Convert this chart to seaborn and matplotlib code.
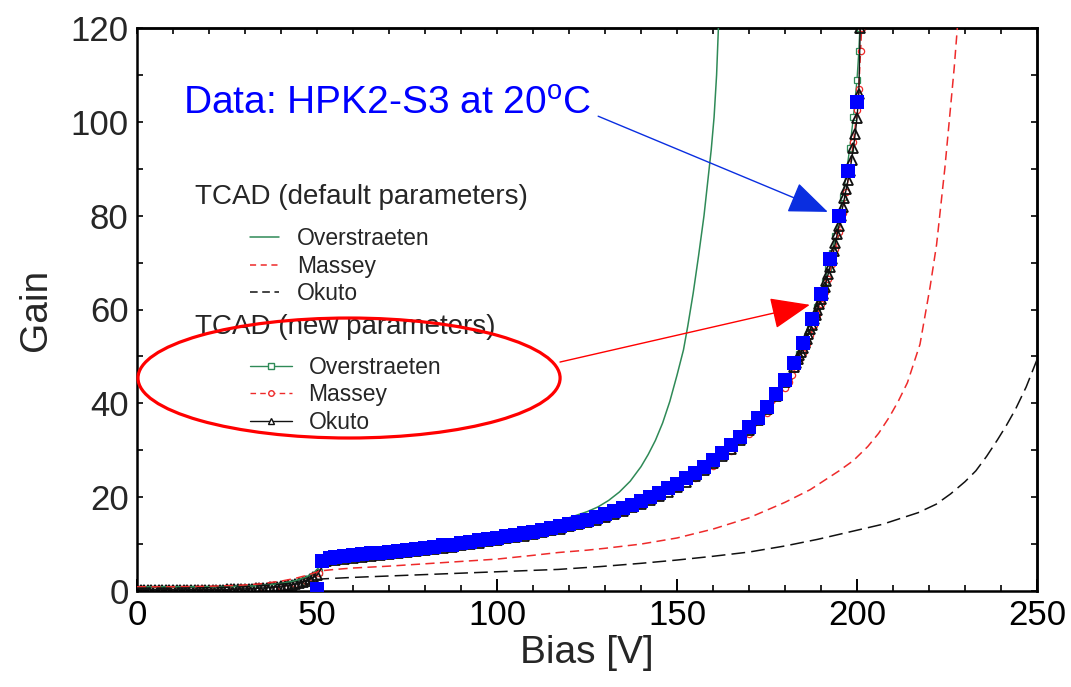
import numpy as np
import matplotlib
matplotlib.use("Agg")
import matplotlib.pyplot as plt
import seaborn as sns
from matplotlib.lines import Line2D
from matplotlib.patches import Ellipse

# ---------------- data ----------------
# Measured data: HPK2-S3 at 20 C
data_v = [50, 51.5, 53.5] + list(np.arange(55, 200.1, 2.5))
data_g = [0.5, 6.3, 7.0,
          7.2, 7.4, 7.6, 7.8, 8.0, 8.2, 8.4, 8.6, 8.8, 9.0,
          9.2, 9.4, 9.7, 9.9, 10.2, 10.5, 10.8, 11.1, 11.4, 11.7,
          12.0, 12.3, 12.6, 13.0, 13.4, 13.8, 14.3, 14.7, 15.2, 15.8,
          16.4, 17.0, 17.7, 18.4, 19.2, 20.0, 20.9, 21.9, 22.9, 24.0,
          25.2, 26.5, 27.9, 29.4, 31.1, 32.9, 34.9, 36.9, 39.3, 42.0,
          45.0, 48.6, 52.8, 57.9, 63.3, 70.7, 79.9, 89.5, 104.3]

# TCAD default parameters
ovs_def_v = [0, 10, 20, 30, 35, 40, 44, 47, 49, 50.5, 51.5, 53, 55, 60, 70, 80, 90, 100,
             110, 115, 120, 125, 128, 131, 134, 137, 140, 142, 144, 146, 148, 150, 151.8,
             153, 154.5, 156, 157.5, 158.5, 159.5, 160.3, 161, 161.5]
ovs_def_g = [0.9, 0.9, 0.9, 1.0, 1.2, 1.6, 2.2, 3.0, 3.8, 5.0, 6.6, 7.0, 7.3, 7.7, 8.6, 9.5,
             10.6, 11.8, 13.3, 14.5, 15.6, 16.9, 17.9, 19.3, 21.1, 23.4, 26.5, 29.1, 32.1,
             35.8, 40.4, 46.0, 51.4, 56.5, 63.5, 71.5, 80.0, 87.0, 94.0, 101.0, 110.0, 120.0]

mas_def_v = [0, 10, 20, 28, 34, 40, 44, 47, 49, 51, 55, 60, 70, 80, 90, 100, 110, 117,
             125, 130, 140, 150, 160, 170, 180, 187, 195, 199, 203, 206, 209, 211.5, 214,
             217.5, 220.3, 222.1, 224.4, 225.8, 227, 227.9]
mas_def_g = [0.9, 0.9, 1.0, 1.2, 1.5, 2.1, 2.7, 3.3, 3.8, 4.3, 4.6, 4.9, 5.3, 5.8, 6.3,
             6.8, 7.6, 8.2, 8.7, 9.1, 10.0, 11.3, 13.2, 15.6, 18.9, 21.6, 25.6, 27.8,
             30.8, 33.6, 37.1, 40.5, 44.4, 52.6, 64.8, 73.8, 90.1, 101.6, 111.5, 120.3]

oku_def_v = [0, 10, 20, 30, 36, 42, 46, 49, 52, 60, 70, 80, 90, 100, 110, 117, 128.6,
             140, 150, 160, 170, 180, 189, 198, 207, 217, 222, 226, 230, 233, 236, 239,
             241.5, 244, 247, 250]
oku_def_g = [0.6, 0.6, 0.7, 0.9, 1.2, 1.6, 2.0, 2.4, 2.6, 2.9, 3.2, 3.5, 3.8, 4.1, 4.4,
             4.6, 5.2, 5.9, 6.6, 7.4, 8.3, 9.6, 11.0, 12.6, 14.2, 16.7, 18.5, 20.7, 23.3,
             25.6, 28.7, 32.2, 35.3, 38.7, 43.5, 49.3]

# TCAD new parameters
ovs_new_v = [0, 5, 10, 15, 20, 25, 30, 35, 40, 44, 47, 49, 50.5, 52] + \
            list(np.arange(55, 180.1, 5)) + list(np.arange(181, 200.1, 1)) + [200.5, 200.8]
ovs_new_g = [0.35, 0.35, 0.35, 0.35, 0.35, 0.4, 0.45, 0.65, 1.0, 1.5, 2.2, 2.9, 4.0, 6.2,
             6.8, 7.2, 7.6, 8.0, 8.4, 8.8, 9.3, 9.8, 10.4, 11.0, 11.6, 12.3, 13.0, 13.9,
             14.8, 15.9, 17.2, 18.7, 20.4, 22.4, 24.7, 27.4, 30.5, 34.4, 38.9, 44.6,
             45.9, 47.3, 48.9, 50.5, 52.2, 54.1, 56.1, 58.3, 60.6, 63.1, 65.8, 68.8,
             72.0, 75.6, 79.6, 84.0, 88.9, 94.5, 101.0, 109.0, 115.0, 120.0]

mas_new_v = [0, 5, 10, 15, 20, 25, 30, 35, 40, 44, 47, 49, 50.5, 52] + \
            list(np.arange(55, 180.1, 5)) + list(np.arange(181, 200.1, 1)) + [200.5, 201, 201.3]
mas_new_g = [0.3, 0.3, 0.3, 0.3, 0.3, 0.35, 0.4, 0.6, 0.95, 1.4, 2.1, 2.8, 3.9, 5.9,
             6.6, 7.0, 7.4, 7.8, 8.2, 8.6, 9.1, 9.6, 10.2, 10.8, 11.4, 12.0, 12.7, 13.6,
             14.5, 15.5, 16.8, 18.3, 20.0, 21.9, 24.1, 26.7, 29.8, 33.5, 37.9, 43.3,
             44.6, 46.0, 47.5, 49.1, 50.8, 52.6, 54.5, 56.6, 58.8, 61.2, 63.8, 66.6,
             69.7, 73.0, 76.6, 80.6, 85.0, 89.9, 95.6, 102.5, 107.0, 115.0, 120.0]

oku_new_v = list(np.arange(0, 50.1, 1)) + list(np.arange(52.5, 182.6, 2.5)) + \
            list(np.arange(183, 200.6, 0.5)) + [200.9]
oku_new_g = [0.3, 0.3, 0.3, 0.3, 0.3, 0.3, 0.3, 0.3, 0.3, 0.3,
             0.3, 0.3, 0.3, 0.3, 0.3, 0.3, 0.3, 0.3, 0.3, 0.3,
             0.3, 0.3, 0.3, 0.3, 0.3, 0.32, 0.35, 0.37, 0.4, 0.42,
             0.45, 0.48, 0.5, 0.55, 0.6, 0.65, 0.7, 0.78, 0.85, 0.92,
             1.0, 1.1, 1.2, 1.35, 1.5, 1.7, 1.9, 2.2, 2.5, 2.9,
             3.4,
             6.3, 6.7, 6.9, 7.1, 7.3, 7.5, 7.7, 7.9, 8.1, 8.3,
             8.5, 8.7, 8.9, 9.2, 9.4, 9.7, 10.0, 10.3, 10.6, 10.9,
             11.2, 11.5, 11.8, 12.2, 12.5, 12.9, 13.3, 13.8, 14.2, 14.7,
             15.2, 15.8, 16.4, 17.1, 17.8, 18.6, 19.4, 20.3, 21.2, 22.2,
             23.3, 24.5, 25.8, 27.2, 28.7, 30.3, 32.1, 34.3, 36.4, 38.8,
             41.5, 44.5, 47.8,
             48.6, 49.4, 50.2, 51.0, 51.9, 52.8, 53.8, 54.8, 55.8, 56.8,
             57.9, 58.9, 60.0, 61.1, 62.2, 63.3, 64.7, 66.1, 67.6, 69.1,
             70.7, 72.4, 74.2, 76.0, 77.9, 79.9, 81.8, 83.7, 85.6, 87.5,
             89.5, 91.9, 94.5, 97.4, 100.8, 106.0,
             120.0]

x_ticks = [0, 50, 100, 150, 200, 250]
y_ticks = [0, 20, 40, 60, 80, 100, 120]
data_label = r"Data: HPK2-S3 at 20$^\mathregular{o}$C"
def_title = "TCAD (default parameters)"
new_title = "TCAD (new parameters)"
model_names = ["Overstraeten", "Massey", "Okuto"]

# ---------------- style ----------------
sns.set_theme(style="ticks")
plt.rcParams["font.family"] = ["Liberation Sans", "DejaVu Sans"]
plt.rcParams["mathtext.default"] = "regular"

GREEN = "#2f8a57"
RED = "#ee2a2a"
BLACK = "#111111"
BLUE = "#0000ff"

fig = plt.figure(figsize=(10.71, 6.87), dpi=100)
ax = fig.add_axes([137 / 1071, 1 - 591 / 687, 900 / 1071, 563 / 687])

# new-parameter curves (bottom layer)
sns.lineplot(x=ovs_new_v, y=ovs_new_g, ax=ax, color=GREEN, lw=1.0, marker="s",
             markersize=4.5, markerfacecolor="white", markeredgecolor=GREEN,
             markeredgewidth=0.9, sort=False, estimator=None, zorder=2)
sns.lineplot(x=mas_new_v, y=mas_new_g, ax=ax, color=RED, lw=1.0, marker="o",
             markersize=4.5, markerfacecolor="white", markeredgecolor=RED,
             markeredgewidth=0.9, sort=False, estimator=None, zorder=2)
ax.lines[-1].set_dashes((5, 3))
sns.lineplot(x=oku_new_v, y=oku_new_g, ax=ax, color=BLACK, lw=1.0, marker="^",
             markersize=6.5, markerfacecolor="none", markeredgecolor=BLACK,
             markeredgewidth=1.3, sort=False, estimator=None, zorder=2.2)

# default-parameter curves
sns.lineplot(x=ovs_def_v, y=ovs_def_g, ax=ax, color=GREEN, lw=1.1,
             sort=False, estimator=None, zorder=3)
sns.lineplot(x=mas_def_v, y=mas_def_g, ax=ax, color=RED, lw=1.1,
             sort=False, estimator=None, zorder=3)
ax.lines[-1].set_dashes((6, 3.5))
sns.lineplot(x=oku_def_v, y=oku_def_g, ax=ax, color=BLACK, lw=1.1,
             sort=False, estimator=None, zorder=3)
ax.lines[-1].set_dashes((9, 4))

# measured data
sns.scatterplot(x=data_v, y=data_g, ax=ax, color=BLUE, marker="s", s=100,
                linewidth=0, zorder=4)

ax.set_xlim(0, 250)
ax.set_ylim(0, 120)
ax.set_xticks(x_ticks)
ax.set_yticks(y_ticks)
ax.set_xticks(np.arange(0, 251, 10), minor=True)
ax.set_yticks(np.arange(0, 121, 10), minor=True)
ax.tick_params(axis="x", which="major", direction="in", length=8.5, width=1.4,
               labelsize=25, pad=6, colors="black")
ax.tick_params(axis="x", which="minor", direction="in", length=4.5, width=1.4)
ax.tick_params(axis="y", which="both", direction="in", length=4.5, width=1.4,
               labelsize=25, pad=6)
for s in ax.spines.values():
    s.set_linewidth(1.8)
    s.set_color("black")

# top and right ticks
secx = ax.secondary_xaxis("top")
secx.set_xticks(np.arange(0, 251, 10))
secx.tick_params(direction="in", length=4.5, width=1.4, labeltop=False)
secx.spines["top"].set_linewidth(1.8)
secy = ax.secondary_yaxis("right")
secy.set_yticks(np.arange(0, 121, 10))
secy.tick_params(direction="in", length=4.5, width=1.4, labelright=False)
secy.spines["right"].set_linewidth(1.8)

ax.set_xlabel("Bias [V]", fontsize=28, labelpad=2)
ax.set_ylabel("Gain", fontsize=28, labelpad=12)

# annotation text + arrows
ax.text(0.051, 0.865, data_label, transform=ax.transAxes, color=BLUE,
        fontsize=28, ha="left", va="center")
ax.annotate("", xy=(191.9, 80.8), xytext=(128.1, 101.2),
            arrowprops=dict(arrowstyle="-|>,head_length=1.25,head_width=0.5",
                            mutation_scale=20, color="#0a2ee0", lw=1.0,
                            shrinkA=0, shrinkB=0), zorder=6)
ax.annotate("", xy=(186.9, 61.0), xytext=(117.5, 48.8),
            arrowprops=dict(arrowstyle="-|>,head_length=1.25,head_width=0.5",
                            mutation_scale=20, color="red", lw=1.0,
                            shrinkA=0, shrinkB=0), zorder=6)

ell = Ellipse((0.2356, 0.3783), 0.469, 0.2131, transform=ax.transAxes,
              fill=False, edgecolor="red", lw=2.3, zorder=5, clip_on=False)
ax.add_patch(ell)

# legend headings
ax.text(0.0644, 0.700, def_title, transform=ax.transAxes, fontsize=20,
        ha="left", va="center")
ax.text(0.0644, 0.469, new_title, transform=ax.transAxes, fontsize=20,
        ha="left", va="center")

h_def = [Line2D([], [], color=GREEN, lw=1.1),
         Line2D([], [], color=RED, lw=1.1, dashes=(4, 3)),
         Line2D([], [], color=BLACK, lw=1.1, dashes=(5, 3))]
leg1 = ax.legend(h_def, model_names, loc="upper left",
                 bbox_to_anchor=(0.1256, 0.646), frameon=False, fontsize=16.5,
                 handlelength=1.25, handletextpad=0.8, labelspacing=0.2,
                 borderpad=0, borderaxespad=0)
ax.add_artist(leg1)

h_new = [Line2D([], [], color=GREEN, lw=1.0, marker="s", markersize=4,
                markerfacecolor="white", markeredgecolor=GREEN),
         Line2D([], [], color=RED, lw=1.0, dashes=(4, 3), marker="o", markersize=4,
                markerfacecolor="white", markeredgecolor=RED),
         Line2D([], [], color=BLACK, lw=1.0, marker="^", markersize=4,
                markerfacecolor="white", markeredgecolor=BLACK)]
leg2 = ax.legend(h_new, model_names, loc="upper left",
                 bbox_to_anchor=(0.1256, 0.418), frameon=False, fontsize=16.5,
                 handlelength=1.85, handletextpad=0.7, labelspacing=0.2,
                 borderpad=0, borderaxespad=0)

fig.savefig("out.png", dpi=100)
